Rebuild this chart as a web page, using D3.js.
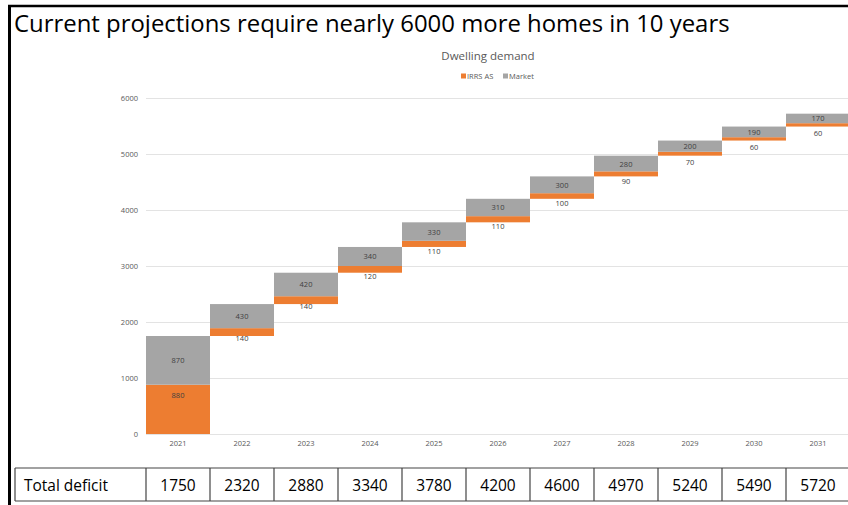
<!DOCTYPE html>
<html>
<head>
<meta charset="utf-8">
<script src="https://cdn.jsdelivr.net/npm/d3@7"></script>
<style>
  body { margin: 0; background: #fff; }
  text { font-family: "Open Sans", sans-serif; }
</style>
</head>
<body>
<div id="chart"></div>
<script>
// data
const years = ["2021", "2022", "2023", "2024", "2025", "2026", "2027", "2028", "2029", "2030", "2031"];
const irrs = [880, 140, 140, 120, 110, 110, 100, 90, 70, 60, 60];
const market = [870, 430, 420, 340, 330, 310, 300, 280, 200, 190, 170];
const totals = [1750, 2320, 2880, 3340, 3780, 4200, 4600, 4970, 5240, 5490, 5720];
const yTicks = [0, 1000, 2000, 3000, 4000, 5000, 6000];

const W = 848, H = 505;
const orange = "#ed7d31", grey = "#a5a5a5", txt = "#595959";

const svg = d3.select("#chart").append("svg")
  .attr("width", W).attr("height", H);

// frame
svg.append("line").attr("x1", 9.5).attr("x2", 9.5).attr("y1", 5).attr("y2", H)
  .attr("stroke", "#000").attr("stroke-width", 3);
svg.append("line").attr("x1", 8).attr("x2", W).attr("y1", 6).attr("y2", 6)
  .attr("stroke", "#000").attr("stroke-width", 2.5);

// shrink/grow font so a text takes the given width
function fitWidth(t, w) {
  const fs = parseFloat(t.attr("font-size"));
  const cur = t.node().getComputedTextLength();
  t.attr("font-size", fs * w / cur);
}

const title = svg.append("text").attr("x", 14).attr("y", 32)
  .attr("font-size", 26).attr("fill", "#000")
  .text("Current projections require nearly 6000 more homes in 10 years");
fitWidth(title, 716);

// scales
const x = d3.scaleBand().domain(years).range([146, 850]).padding(0);
const y = d3.scaleLinear().domain([0, 6000]).range([434, 98]);

// grid + y labels
svg.append("g").selectAll("line").data(yTicks).join("line")
  .attr("x1", 146).attr("x2", W)
  .attr("y1", d => y(d) + 0.5).attr("y2", d => y(d) + 0.5)
  .attr("stroke", "#e3e3e3").attr("stroke-width", 1);

const yAxis = svg.append("g").attr("transform", "translate(140,0)")
  .call(d3.axisLeft(y).tickValues(yTicks).tickFormat(d3.format("d")).tickSize(0).tickPadding(2));
yAxis.select(".domain").remove();
yAxis.selectAll("text").attr("font-size", 7.5).attr("fill", txt)
  .attr("font-family", "Open Sans, sans-serif");

const xAxis = svg.append("g").attr("transform", "translate(0,441)")
  .call(d3.axisBottom(x).tickSize(0).tickPadding(0));
xAxis.select(".domain").remove();
xAxis.selectAll("text").attr("font-size", 7.5).attr("fill", txt)
  .attr("font-family", "Open Sans, sans-serif");

// chart title and legend
svg.append("text").attr("x", 488).attr("y", 60).attr("text-anchor", "middle")
  .attr("font-size", 11.5).attr("fill", txt).text("Dwelling demand");

const legend = svg.append("g").attr("transform", "translate(461,78)");
[["IRRS AS", orange, 0], ["Market", grey, 42]].forEach(([name, c, dx]) => {
  legend.append("rect").attr("x", dx).attr("y", -4.5).attr("width", 5).attr("height", 5).attr("fill", c);
  legend.append("text").attr("x", dx + 6).attr("y", 0.5).attr("font-size", 7.5)
    .attr("fill", txt).text(name);
});

// waterfall: each year starts at the previous total
const rows = years.map((yr, i) => ({
  yr, irrs: irrs[i], market: market[i],
  base: i === 0 ? 0 : totals[i - 1]
}));

const bars = svg.append("g");
bars.selectAll(".irrs").data(rows).join("rect").attr("class", "irrs")
  .attr("x", d => x(d.yr)).attr("width", x.bandwidth())
  .attr("y", d => y(d.base + d.irrs))
  .attr("height", d => y(d.base) - y(d.base + d.irrs))
  .attr("fill", orange);
bars.selectAll(".market").data(rows).join("rect").attr("class", "market")
  .attr("x", d => x(d.yr)).attr("width", x.bandwidth())
  .attr("y", d => y(d.base + d.irrs + d.market))
  .attr("height", d => y(d.base + d.irrs) - y(d.base + d.irrs + d.market))
  .attr("fill", grey);

// labels
bars.selectAll(".mlab").data(rows).join("text")
  .attr("x", d => x(d.yr) + x.bandwidth() / 2)
  .attr("y", d => (y(d.base + d.irrs) + y(d.base + d.irrs + d.market)) / 2 + 3)
  .attr("text-anchor", "middle").attr("font-size", 7.5).attr("fill", "#404040")
  .text(d => d.market);
bars.selectAll(".ilab").data(rows).join("text")
  .attr("x", d => x(d.yr) + x.bandwidth() / 2)
  .attr("y", d => y(d.base + d.irrs) + 13)
  .attr("text-anchor", "middle").attr("font-size", 7.5).attr("fill", "#404040")
  .text(d => d.irrs);

// table of totals
const tTop = 468, tBot = 501;
const tbl = svg.append("g").attr("stroke", "#444").attr("stroke-width", 1.2);
tbl.append("line").attr("x1", 15).attr("x2", W).attr("y1", tTop).attr("y2", tTop);
tbl.append("line").attr("x1", 15).attr("x2", W).attr("y1", tBot).attr("y2", tBot);
tbl.selectAll(".v").data([15].concat(years.map(d => x(d)))).join("line")
  .attr("x1", d => d).attr("x2", d => d).attr("y1", tTop).attr("y2", tBot);

const lab = svg.append("text").attr("x", 24).attr("y", 491)
  .attr("font-size", 15).attr("fill", "#000").text("Total deficit");
fitWidth(lab, 84);
const tfs = lab.attr("font-size");
svg.append("g").selectAll("text").data(years).join("text")
  .attr("x", d => x(d) + x.bandwidth() / 2).attr("y", 491)
  .attr("text-anchor", "middle").attr("font-size", tfs).attr("fill", "#000")
  .text((d, i) => totals[i]);
</script>
</body>
</html>
